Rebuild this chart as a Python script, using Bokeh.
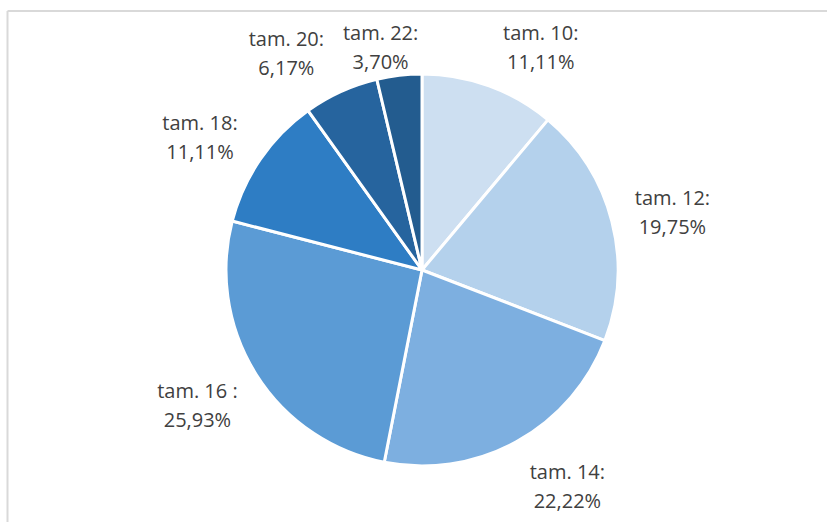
import numpy as np
from bokeh.plotting import figure
from bokeh.models import ColumnDataSource
from bokeh.core.properties import value
from bokeh.embed import file_html
from bokeh.resources import INLINE

# ---- data ----
categories = ["tam. 10:", "tam. 12:", "tam. 14:", "tam. 16 :", "tam. 18:", "tam. 20:", "tam. 22:"]
percent_labels = ["11,11%", "19,75%", "22,22%", "25,93%", "11,11%", "6,17%", "3,70%"]
values = [11.11, 19.75, 22.22, 25.93, 11.11, 6.17, 3.70]
colors = ["#cddff1", "#b4d1ec", "#7dafe0", "#5b9bd5", "#2e7dc4", "#26649e", "#235c8f"]

# ---- layout (pixel space of the page) ----
W, H = 827, 522
CX, CY = 421.5, -269.5
R = 196
# label placement: angle (deg, clockwise from top) and radius
label_angles = [28, 77, 146, 239, 301, 328, 349.5]
label_radius = [253, 257, 260, 262, 259, 256, 227]

vals = np.array(values)
frac = vals / vals.sum()
cum = np.cumsum(frac)
prev = np.concatenate([[0], cum[:-1]])
start = np.pi / 2 - 2 * np.pi * prev
end = np.pi / 2 - 2 * np.pi * cum

src = ColumnDataSource(dict(start=start, end=end, color=colors, cat=categories, pct=percent_labels,
                            x=[CX] * len(values), y=[CY] * len(values)))

p = figure(width=W, height=H, x_range=(0, W), y_range=(-H, 0), output_backend="svg",
           toolbar_location=None, min_border=0, outline_line_color=None)
p.axis.visible = False
p.grid.visible = False
p.background_fill_color = "white"

# chart border (left and top visible)
p.segment(x0=[7, 7], y0=[-H, -10.5], x1=[7, W], y1=[-10.5, -10.5], line_color="#d9d9d9", line_width=2)

p.wedge(x="x", y="y", radius=R, radius_units="screen", start_angle="start", end_angle="end",
        direction="clock", fill_color="color", line_color="white", line_width=3, source=src)

la = np.radians(label_angles)
lx = CX + np.array(label_radius) * np.sin(la)
ly = CY + np.array(label_radius) * np.cos(la)
lsrc = ColumnDataSource(dict(x=lx, y=ly, cat=categories, pct=percent_labels))
common = dict(text_font=value("Open Sans"), text_font_size="20px", text_color="#404040",
              text_align="center", text_baseline="middle", source=lsrc)
p.text(x="x", y="y", text="cat", y_offset=-14.5, **common)
p.text(x="x", y="y", text="pct", y_offset=14.5, **common)

open("out.html", "w").write(file_html(p, INLINE))
